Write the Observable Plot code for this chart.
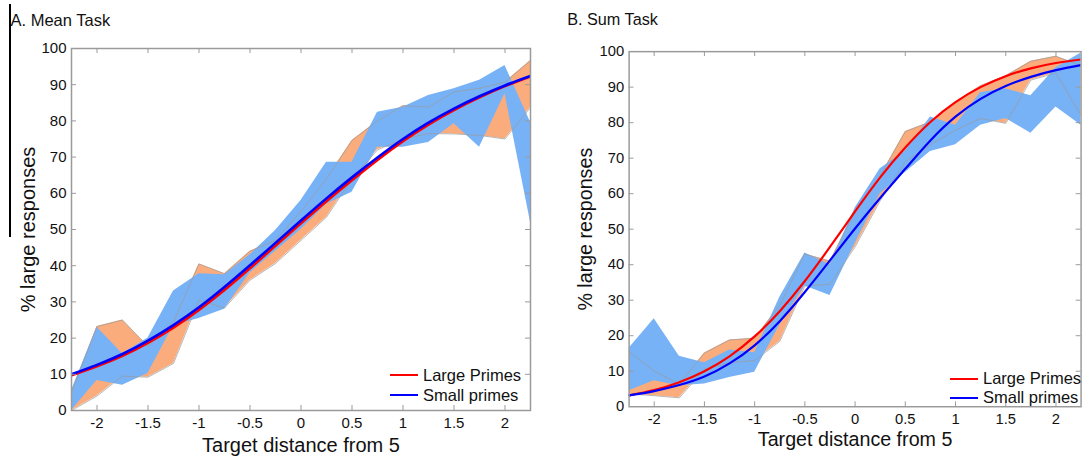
<!DOCTYPE html>
<html>
<head>
<meta charset="utf-8">
<script src="https://cdn.jsdelivr.net/npm/d3@7"></script>
<script src="https://cdn.jsdelivr.net/npm/@observablehq/plot@0.6"></script>
<style>
  body { margin: 0; width: 1086px; height: 460px; overflow: hidden; background: #fff;
         font-family: Arial, "Liberation Sans", sans-serif; }
  #wrap { position: relative; width: 1086px; height: 460px; overflow: hidden; }
  .panel { position: absolute; top: 0; }
  .legend { position: absolute; font-size: 16.5px; color: #111; }
  .legend .row { display: flex; align-items: center; }
  .legend .sw { width: 28px; height: 2px; margin-right: 5px; }
  #artifact { position: absolute; left: 9px; top: 4px; width: 1.5px; height: 233px; background: #000; }
</style>
</head>
<body>
<div id="wrap">
  <div id="pA" class="panel" style="left:0px"></div>
  <div id="pB" class="panel" style="left:545px"></div>
  <div id="artifact"></div>
  <div class="legend" style="left:390px; top:365px;">
    <div class="row" style="height:20px"><div class="sw" style="background:#ff0000"></div>Large Primes</div>
    <div class="row" style="height:20px"><div class="sw" style="background:#0000ff"></div>Small primes</div>
  </div>
  <div class="legend" style="left:950px; top:369px;">
    <div class="row" style="height:19px"><div class="sw" style="background:#ff0000"></div>Large Primes</div>
    <div class="row" style="height:19px"><div class="sw" style="background:#0000ff"></div>Small primes</div>
  </div>
</div>
<script>
// ---- data ----
const xs = [-2.25, -2, -1.75, -1.5, -1.25, -1, -0.75, -0.5, -0.25, 0, 0.25, 0.5, 0.75, 1, 1.25, 1.5, 1.75, 2, 2.25];
const xTicks = [-2, -1.5, -1, -0.5, 0, 0.5, 1, 1.5, 2];
const yTicks = [0, 10, 20, 30, 40, 50, 60, 70, 80, 90, 100];

// A. Mean Task
const meanLargeLo = [0, 4, 9.5, 9.2, 13, 30.5, 28.3, 36, 40.6, 47, 53.4, 64, 72, 75, 76.5, 76.4, 76, 75, 83.7];
const meanLargeHi = [5, 23.2, 25, 17.7, 24.5, 40.5, 37.8, 44, 47, 55, 64, 74.6, 80, 84.2, 83.8, 88, 89, 90.7, 96.7];
const meanSmallLo = [0, 8.3, 7, 10.2, 23.5, 25.4, 28, 38, 44, 50, 57, 60.3, 72.7, 72.7, 74, 79.2, 72.7, 87.5, 52];
const meanSmallHi = [5.5, 23, 15.7, 20, 33, 37.8, 37.5, 43, 49.7, 58, 68.6, 68.6, 82.4, 83.8, 87, 88.9, 91.2, 95.3, 79.6];
const meanLargeFit = [9.7, 12.2, 15.1, 18.7, 22.9, 27.8, 33.3, 39.3, 45.5, 51.7, 57.8, 63.6, 69.2, 74.4, 79, 83, 86.5, 89.6, 92.3];
const meanSmallFit = [10, 12.6, 15.6, 19.3, 23.6, 28.5, 34.1, 40.1, 46.3, 52.5, 58.6, 64.4, 69.9, 75, 79.5, 83.4, 86.8, 89.8, 92.4];

// B. Sum Task
const sumLargeLo = [3.6, 3.1, 2.5, 10.5, 12.4, 13, 18.4, 34, 34.5, 45, 58, 69, 73.8, 77.9, 81.2, 79.8, 92, 94, 82];
const sumLargeHi = [15.5, 10, 6.4, 15.1, 18.8, 19.3, 28.5, 43, 41, 55, 65, 77.5, 80.2, 85.8, 90.4, 93.2, 97.3, 98.7, 96];
const sumSmallLo = [4.5, 7.3, 5.9, 6.4, 8.2, 9.7, 23, 34, 31.3, 46, 60, 66, 71.9, 73.8, 79.3, 81.2, 77, 84.4, 79.3];
const sumSmallHi = [16.5, 24.8, 14.2, 12.4, 16, 15.2, 30.8, 43.3, 40, 56, 67, 72, 81.6, 79.3, 88.5, 89.5, 87.6, 95.5, 99.6];
const sumLargeFit = [3.2, 4.7, 6.9, 10, 14.2, 19.8, 26.9, 35.4, 45, 55, 64.6, 73, 80.2, 85.8, 90, 93.1, 95.3, 96.8, 97.8];
const sumSmallFit = [3.2, 4.4, 6.1, 8.5, 12.2, 17.3, 24.1, 32.3, 41.2, 50.2, 58.8, 67, 75, 81.7, 86.7, 90.3, 92.9, 94.8, 96.2];

const ORANGE = "#fbac7c";
const BLUE = "#78b2f6";
const AXIS = "#9a9a9a";
const FONT = 'Arial, "Liberation Sans", sans-serif';

function panel(o) {
  const rows = xs.map((x, i) => ({
    x, oLo: o.lLo[i], oHi: o.lHi[i], bLo: o.sLo[i], bHi: o.sHi[i], rFit: o.lFit[i], bFit: o.sFit[i]
  }));
  const H = 460;
  const ph = H - o.mt - o.mb;
  const pw = o.width - o.ml - o.mr;
  return Plot.plot({
    width: o.width, height: H,
    marginLeft: o.ml, marginRight: o.mr, marginTop: o.mt, marginBottom: o.mb,
    x: {domain: [-2.25, 2.25]},
    y: {domain: [0, 100]},
    style: {fontFamily: FONT, fontSize: "15px", color: "#111", background: "transparent", overflow: "visible"},
    marks: [
      Plot.areaY(rows, {x: "x", y1: "oLo", y2: "oHi", fill: ORANGE, clip: true}),
      Plot.areaY(rows, {x: "x", y1: "bLo", y2: "bHi", fill: BLUE, clip: true}),
      Plot.lineY(rows, {x: "x", y: "oLo", stroke: "#9a9a9a", strokeWidth: 0.8, strokeOpacity: 0.9, clip: true}),
      Plot.lineY(rows, {x: "x", y: "oHi", stroke: "#9a9a9a", strokeWidth: 0.8, strokeOpacity: 0.9, clip: true}),
      Plot.lineY(rows, {x: "x", y: "rFit", stroke: "#ff0000", strokeWidth: o.lw, curve: "natural", clip: true}),
      Plot.lineY(rows, {x: "x", y: "bFit", stroke: "#0000ff", strokeWidth: o.lw, curve: "natural", clip: true}),
      Plot.frame({stroke: AXIS, strokeWidth: 1.5}),
      Plot.ruleX(xTicks, {x: d => d, stroke: AXIS, strokeWidth: 1, insetTop: ph - 5}),
      Plot.ruleX(xTicks, {x: d => d, stroke: AXIS, strokeWidth: 1, insetBottom: ph - 5}),
      Plot.ruleY(yTicks.slice(1, -1), {y: d => d, stroke: AXIS, strokeWidth: 1, insetRight: pw - 5}),
      Plot.ruleY(yTicks.slice(1, -1), {y: d => d, stroke: AXIS, strokeWidth: 1, insetLeft: pw - 5}),
      Plot.axisX(xTicks, {tickSize: 0, tickPadding: 7, fontSize: 15, label: null, tickFormat: d => String(d)}),
      Plot.axisY(yTicks, {tickSize: 0, tickPadding: 5, fontSize: 15, label: null, tickFormat: d => String(d)}),
      Plot.text(["% large responses"], {frameAnchor: "left", rotate: -90, dx: o.ylabDx, text: d => d,
        fontSize: 20, lineAnchor: "middle", textAnchor: "middle", fill: "#111"}),
      Plot.text(["Target distance from 5"], {frameAnchor: "bottom", dy: o.xlabDy, text: d => d,
        fontSize: 20, lineAnchor: "middle", textAnchor: "middle", fill: "#111"}),
      Plot.text([o.title], {frameAnchor: "top-left", dx: o.titleDx, dy: o.titleDy, text: d => d,
        fontSize: 16.5, lineAnchor: "middle", textAnchor: "start", fill: "#111"})
    ]
  });
}

document.getElementById("pA").append(panel({
  lLo: meanLargeLo, lHi: meanLargeHi, sLo: meanSmallLo, sHi: meanSmallHi, lFit: meanLargeFit, sFit: meanSmallFit,
  width: 545, ml: 71, mr: 15, mt: 48, mb: 50, lw: 2.6,
  ylabDx: -43, xlabDy: 35, title: "A. Mean Task", titleDx: -61, titleDy: -28
}));
document.getElementById("pB").append(panel({
  lLo: sumLargeLo, lHi: sumLargeHi, sLo: sumSmallLo, sHi: sumSmallHi, lFit: sumLargeFit, sFit: sumSmallFit,
  width: 550, ml: 85, mr: 5.5, mt: 52, mb: 47, lw: 2.2,
  ylabDx: -44, xlabDy: 34, title: "B. Sum Task", titleDx: -63, titleDy: -32
}));
</script>
</body>
</html>
